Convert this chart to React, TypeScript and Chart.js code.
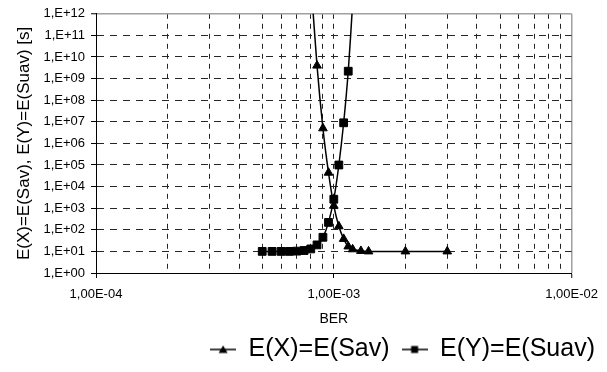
import React, { useEffect, useRef } from 'react';
import { Chart, registerables } from 'chart.js';

Chart.register(...registerables);

// ---- data ----
const berSav = [8.0e-4, 8.5e-4, 9.0e-4, 9.5e-4, 1.0e-3, 1.05e-3, 1.1e-3, 1.15e-3, 1.2e-3, 1.3e-3, 1.4e-3, 2.0e-3, 3.0e-3];
const eSav = [4e13, 4e9, 5e6, 4.4e4, 1.3e3, 145, 38, 17, 12.5, 10.5, 10, 10, 10];

const berSuav = [5.0e-4, 5.5e-4, 6.0e-4, 6.5e-4, 7.0e-4, 7.5e-4, 8.0e-4, 8.5e-4, 9.0e-4, 9.5e-4, 1.0e-3, 1.05e-3, 1.1e-3, 1.15e-3, 1.2e-3];
const eSuav = [10, 10, 10, 10, 10.3, 11, 13, 20, 45, 220, 2600, 1e5, 9e6, 2.2e9, 3e12];

const seriesLabels = ['E(X)=E(Sav)', 'E(Y)=E(Suav)'];

const xMajor = [1e-4, 1e-3, 1e-2];
const xTickLabels = ['1,00E-04', '1,00E-03', '1,00E-02'];
const xMinorMultipliers = [1, 2, 3, 4, 5, 6, 7, 8, 9];

const yTicks = [1e0, 1e1, 1e2, 1e3, 1e4, 1e5, 1e6, 1e7, 1e8, 1e9, 1e10, 1e11, 1e12];
const yTickLabels = ['1,E+00', '1,E+01', '1,E+02', '1,E+03', '1,E+04', '1,E+05', '1,E+06', '1,E+07', '1,E+08', '1,E+09', '1,E+10', '1,E+11', '1,E+12'];

const xTitle = 'BER';
const yTitle = 'E(X)=E(Sav), E(Y)=E(Suav) [s]';

// ---- helpers ----
const near = (a: number, b: number) => Math.abs(a - b) <= Math.abs(b) * 1e-6;
const xGridValues: number[] = [];
for (let d = 0; d < xMajor.length - 1; d++) {
  for (const m of xMinorMultipliers) xGridValues.push(Number((m * xMajor[d]).toPrecision(4)));
}
xGridValues.push(xMajor[xMajor.length - 1]);

const FONT = "'Liberation Sans', Arial, sans-serif";

function makeIcon(kind: 'triangle' | 'rect'): HTMLCanvasElement {
  const c = document.createElement('canvas');
  c.width = 26;
  c.height = 12;
  const g = c.getContext('2d')!;
  g.strokeStyle = '#000';
  g.fillStyle = '#000';
  g.lineWidth = 1.5;
  g.beginPath();
  g.moveTo(0, 6);
  g.lineTo(26, 6);
  g.stroke();
  g.beginPath();
  if (kind === 'triangle') {
    g.moveTo(13, 2);
    g.lineTo(17.5, 9.5);
    g.lineTo(8.5, 9.5);
    g.closePath();
  } else {
    g.rect(9.5, 2.5, 7, 7);
  }
  g.fill();
  return c;
}

export default function App() {
  const ref = useRef<HTMLCanvasElement | null>(null);

  useEffect(() => {
    if (!ref.current) return;
    const icons = [makeIcon('triangle'), makeIcon('rect')];

    const chart = new Chart(ref.current, {
      type: 'line',
      data: {
        datasets: [
          {
            label: seriesLabels[0],
            data: berSav.map((x, i) => ({ x, y: eSav[i] })),
            borderColor: '#000',
            backgroundColor: '#000',
            borderWidth: 1.5,
            pointStyle: 'triangle',
            pointRadius: 5,
            pointBackgroundColor: '#000',
            pointBorderColor: '#000',
            pointBorderWidth: 1,
            tension: 0.3,
            fill: false,
          },
          {
            label: seriesLabels[1],
            data: berSuav.map((x, i) => ({ x, y: eSuav[i] })),
            borderColor: '#000',
            backgroundColor: '#000',
            borderWidth: 1.5,
            pointStyle: 'rect',
            pointRadius: 5.5,
            pointBackgroundColor: '#000',
            pointBorderColor: '#000',
            pointBorderWidth: 1,
            tension: 0.3,
            fill: false,
          },
        ],
      },
      options: {
        responsive: false,
        animation: false,
        events: [],
        capBezierPoints: false,
        layout: { padding: { top: 10, left: 0, right: 0, bottom: 0 } },
        font: { family: FONT },
        color: '#000',
        plugins: {
          tooltip: { enabled: false },
          legend: {
            display: true,
            position: 'bottom',
            align: 'end',
            labels: {
              usePointStyle: true,
              pointStyleWidth: 26,
              padding: 12,
              color: '#000',
              font: { family: FONT, size: 25 },
              generateLabels: (ch: any) => {
                const items = (Chart as any).defaults.plugins.legend.labels.generateLabels(ch);
                return items.map((it: any, i: number) => ({ ...it, pointStyle: icons[i] }));
              },
            },
          },
        },
        scales: {
          x: {
            type: 'logarithmic',
            min: xMajor[0],
            max: xMajor[xMajor.length - 1],
            afterBuildTicks: (scale: any) => {
              scale.ticks = xGridValues.map((v) => ({ value: v, major: xMajor.some((m) => near(v, m)) }));
            },
            afterFit: (scale: any) => {
              scale.height = 52;
            },
            ticks: {
              autoSkip: false,
              maxRotation: 0,
              minRotation: 0,
              padding: 9,
              color: '#000',
              font: { family: FONT, size: 13 },
              callback: (value: any) => {
                const idx = xMajor.findIndex((m) => near(Number(value), m));
                return idx >= 0 ? xTickLabels[idx] : '';
              },
            },
            grid: {
              color: (ctx: any) => (ctx.tick && near(ctx.tick.value, xMajor[xMajor.length - 1]) ? '#a0a0a0' : '#262626'),
              lineWidth: (ctx: any) => (ctx.tick && near(ctx.tick.value, xMajor[xMajor.length - 1]) ? 1.5 : 1),
              tickLength: 5,
              tickColor: (ctx: any) =>
                ctx.tick && xMajor.some((m) => near(ctx.tick.value, m)) ? '#000' : 'rgba(0,0,0,0)',
              tickWidth: 1,
            },
            border: {
              display: true,
              color: '#000',
              width: 1,
              dash: (ctx: any) => (ctx.tick && near(ctx.tick.value, xMajor[xMajor.length - 1]) ? [] : [5, 5]),
            },
            title: {
              display: true,
              text: xTitle,
              color: '#000',
              font: { family: FONT, size: 14 },
              padding: { top: 0, bottom: -3 },
            },
          },
          y: {
            type: 'logarithmic',
            position: 'left',
            min: yTicks[0],
            max: yTicks[yTicks.length - 1],
            afterBuildTicks: (scale: any) => {
              scale.ticks = yTicks.map((v) => ({ value: v, major: true }));
            },
            afterFit: (scale: any) => {
              scale.width = 96;
            },
            ticks: {
              autoSkip: false,
              padding: 6,
              color: '#000',
              font: { family: FONT, size: 13 },
              callback: (value: any) => {
                const idx = yTicks.findIndex((m) => near(Number(value), m));
                return idx >= 0 ? yTickLabels[idx] : '';
              },
            },
            grid: {
              color: (ctx: any) => (ctx.tick && near(ctx.tick.value, yTicks[yTicks.length - 1]) ? '#a0a0a0' : '#262626'),
              lineWidth: (ctx: any) => (ctx.tick && near(ctx.tick.value, yTicks[yTicks.length - 1]) ? 1.5 : 1),
              tickLength: 5,
              tickColor: '#000',
              tickWidth: 1,
            },
            border: {
              display: true,
              color: '#000',
              width: 1,
              dash: (ctx: any) => (ctx.tick && near(ctx.tick.value, yTicks[yTicks.length - 1]) ? [] : [7, 6]),
            },
            title: {
              display: true,
              text: yTitle,
              color: '#000',
              font: { family: FONT, size: 17 },
              padding: { top: 14, bottom: 0 },
            },
          },
          yRightSpace: {
            type: 'linear',
            position: 'right',
            display: true,
            ticks: { display: false },
            grid: { display: false, drawTicks: false },
            border: { display: false },
            afterFit: (scale: any) => {
              scale.width = 29;
            },
          },
        },
      } as any,
    });

    return () => chart.destroy();
  }, []);

  return (
    <div style={{ position: 'fixed', left: 0, top: 0, width: 607, height: 372, background: '#fff' }}>
      <canvas ref={ref} width={607} height={372} style={{ display: 'block', width: 607, height: 372 }} />
    </div>
  );
}
